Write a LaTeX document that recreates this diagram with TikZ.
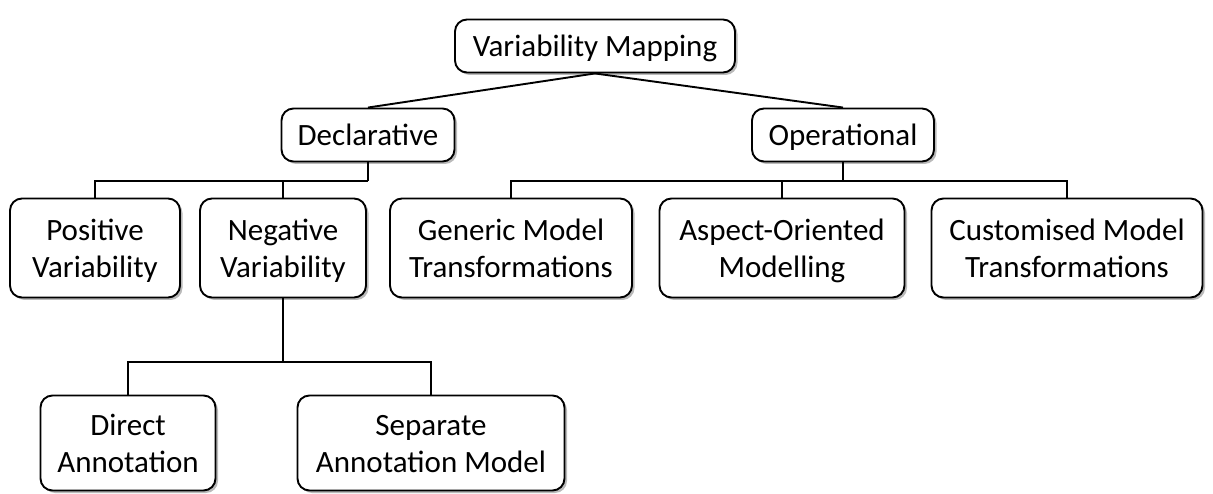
\documentclass[tikz,border=0pt]{standalone}
\usepackage{fontspec}
\setmainfont{Carlito}
\usetikzlibrary{shadows}
\newcommand\mytopstrut{\rule{0pt}{28pt}}
\newcommand\mybotstrut{\rule[-6pt]{0pt}{6pt}}
\begin{document}
\begin{tikzpicture}[x=1pt,y=-1pt,
  box/.style={draw=black, line width=1.9pt, rounded corners=12pt, fill=white,
    drop shadow={shadow xshift=2.5pt, shadow yshift=-2.5pt, fill=black!45, opacity=0.6},
    align=center, inner sep=0pt, font=\fontsize{31}{37}\selectfont},
  oneline/.style={box, minimum height=53pt, text height=28pt, text depth=7pt},
  twoline/.style={box, minimum height=99pt},
  link/.style={draw=black, line width=1.9pt}]
\useasboundingbox (0,0) rectangle (1213,494);
\node[oneline, minimum width=280pt] (vm) at (595,46) {Variability Mapping};
\node[oneline, minimum width=173pt] (decl) at (368,135) {Declarative};
\node[oneline, minimum width=182pt] (oper) at (843,135) {Operational};
\node[twoline, minimum width=170pt] (pos) at (95,248) {\mytopstrut Positive\\Variability\mybotstrut};
\node[twoline, minimum width=166pt] (neg) at (283,248) {\mytopstrut Negative\\Variability\mybotstrut};
\node[twoline, minimum width=242pt] (gen) at (511,248) {\mytopstrut Generic Model\\Transformations\mybotstrut};
\node[twoline, minimum width=245pt] (asp) at (782,248) {\mytopstrut Aspect-Oriented\\Modelling\mybotstrut};
\node[twoline, minimum width=271pt] (cus) at (1067,248) {\mytopstrut Customised Model\\Transformations\mybotstrut};
\node[twoline, minimum width=175pt, minimum height=95pt] (dir) at (128,443) {\mytopstrut Direct\\Annotation\mybotstrut};
\node[twoline, minimum width=267pt, minimum height=95pt] (sep) at (431,443) {\mytopstrut Separate\\Annotation Model\mybotstrut};
\coordinate (j1) at (368,181);
\coordinate (j2) at (843,181);
\coordinate (j3) at (283,362);
\draw[link] (vm.south) -- (decl.north);
\draw[link] (vm.south) -- (oper.north);
\draw[link] (decl.south) -- (j1);
\draw[link] (pos.north) |- (j1);
\draw[link] (neg.north) |- (j1);
\draw[link] (oper.south) -- (j2);
\draw[link] (gen.north) |- (j2);
\draw[link] (asp.north) |- (j2);
\draw[link] (cus.north) |- (j2);
\draw[link] (neg.south) -- (j3);
\draw[link] (dir.north) |- (j3);
\draw[link] (sep.north) |- (j3);
\end{tikzpicture}
\end{document}
